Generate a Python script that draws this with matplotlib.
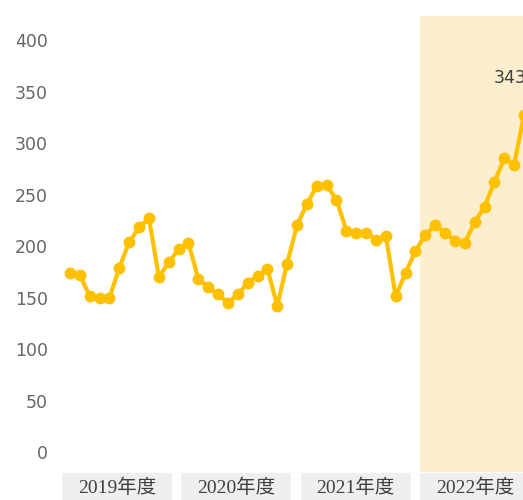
import numpy as np
import matplotlib
matplotlib.use("Agg")
import matplotlib.pyplot as plt
from matplotlib.patches import Rectangle
import matplotlib.transforms as mtransforms

# monthly values, FY2019 .. FY2022 (April start)
fy2019 = [174, 172, 151, 150, 150, 179, 204, 218, 227, 170, 184, 197]
fy2020 = [203, 168, 160, 153, 145, 153, 164, 171, 178, 142, 183, 220]
fy2021 = [241, 258, 259, 245, 215, 213, 213, 206, 210, 151, 174, 195]
fy2022 = [211, 220, 213, 205, 203, 223, 238, 262, 285, 279, 327, 343]
years = ["2019年度", "2020年度", "2021年度", "2022年度"]
yticks = [0, 50, 100, 150, 200, 250, 300, 350, 400]

values = np.array(fy2019 + fy2020 + fy2021 + fy2022)
x = np.arange(len(values))

line_color = "#FFC000"
shade_color = "#FDEFCD"
box_color = "#EFEFEF"

fig = plt.figure(figsize=(5.23, 5.0), dpi=100)
ax = fig.add_axes([55 / 523, 28 / 500, 1 - 55 / 523, 456 / 500])

ax.set_xlim(-1.52, 45.9)
ax.set_ylim(-19.4, 423.3)

# shaded current fiscal year
ax.axvspan(35.46, 60, color=shade_color, lw=0, zorder=0)

ax.plot(x, values, color=line_color, lw=3, marker="o", ms=7.5,
        solid_joinstyle="round", zorder=3)

# max label
imax = int(np.argmax(values))
ax.annotate(str(values[imax]), (x[imax], values[imax]), xytext=(-17, 15),
            textcoords="offset points", ha="center", va="center",
            fontsize=12.5, color="#404040", annotation_clip=False)

ax.set_yticks(yticks)
ax.set_yticklabels([str(v) for v in yticks])
ax.tick_params(axis="y", length=0, pad=5, labelsize=12.5, labelcolor="#666666")
ax.set_xticks([])
for s in ax.spines.values():
    s.set_visible(False)

# year category boxes under the plot
trans = mtransforms.blended_transform_factory(ax.transData, ax.transAxes)
for k, label in enumerate(years):
    left = -0.8 + 12.09 * k
    width = 11.15 if k < 3 else 30
    ax.add_patch(Rectangle((left, -0.0635), width, 0.0615, transform=trans,
                           facecolor=box_color, edgecolor="none", clip_on=False))
    ax.text(left + 11.15 / 2, -0.035, label, transform=trans, ha="center",
            va="center", fontsize=14, color="#404040",
            family=["Liberation Serif", "Noto Sans CJK JP"])

fig.savefig("out.png", dpi=100)
